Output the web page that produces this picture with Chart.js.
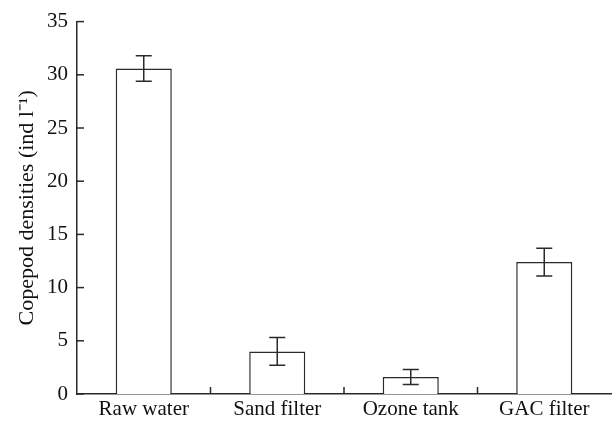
<!DOCTYPE html>
<html>
<head>
<meta charset="utf-8">
<script src="https://cdn.jsdelivr.net/npm/chart.js@4"></script>
<style>
  html, body { margin: 0; padding: 0; background: #fff; }
  #wrap { width: 612px; height: 421px; }
</style>
</head>
<body>
<div id="wrap"><canvas id="copepods" width="612" height="421"></canvas></div>
<script>
// COPEPOD DENSITIES CHART
const categories = ['Raw water', 'Sand filter', 'Ozone tank', 'GAC filter'];
const densities = [30.6, 4.0, 1.6, 12.4];   // ind l-1
const errors = [1.2, 1.3, 0.7, 1.3];        // +/- error
const yTicks = [0, 5, 10, 15, 20, 25, 30, 35];

const ink = '#2a2a2a';
const serif = '"Liberation Serif", "Times New Roman", serif';

// error bars + inward tick marks
const extras = {
    id: 'extras',
    afterDatasetsDraw(chart) {
        const ctx = chart.ctx;
        const x = chart.scales.x, y = chart.scales.y;
        const meta = chart.getDatasetMeta(0);
        ctx.save();
        ctx.strokeStyle = ink;
        ctx.lineWidth = 1.5;
        meta.data.forEach((bar, i) => {
            const top = y.getPixelForValue(densities[i] + errors[i]);
            const bot = y.getPixelForValue(densities[i] - errors[i]);
            ctx.beginPath();
            ctx.moveTo(bar.x, top); ctx.lineTo(bar.x, bot);
            ctx.moveTo(bar.x - 8, top); ctx.lineTo(bar.x + 8, top);
            ctx.moveTo(bar.x - 8, bot); ctx.lineTo(bar.x + 8, bot);
            ctx.stroke();
        });
        // y ticks, pointing into the plot
        const left = chart.chartArea.left;
        y.ticks.forEach((t, i) => {
            const py = y.getPixelForTick(i);
            ctx.beginPath();
            ctx.moveTo(left, py); ctx.lineTo(left + 7, py);
            ctx.stroke();
        });
        // x ticks between categories
        const bottom = chart.chartArea.bottom;
        for (let i = 1; i < categories.length; i++) {
            const px = (x.getPixelForValue(i - 1) + x.getPixelForValue(i)) / 2;
            ctx.beginPath();
            ctx.moveTo(px, bottom); ctx.lineTo(px, bottom - 7);
            ctx.stroke();
        }
        ctx.restore();
    }
};

const ctx = document.getElementById('copepods').getContext('2d');
const chart = new Chart(ctx, {
    type: 'bar',
    data: {
        labels: categories,
        datasets: [{
            data: densities,
            backgroundColor: '#ffffff',
            borderColor: ink,
            borderWidth: 1.5,
            categoryPercentage: 1,
            barPercentage: 0.42
        }]
    },
    options: {
        responsive: false,
        animation: false,
        layout: { padding: { top: 21, right: 1, bottom: 0, left: 0 } },
        plugins: {
            legend: { display: false },
            tooltip: { enabled: false }
        },
        scales: {
            x: {
                grid: { display: false, drawTicks: false },
                border: { display: true, color: ink, width: 1.5 },
                ticks: { color: '#111', padding: 3, font: { family: serif, size: 21 } },
                afterFit(scale) { scale.height = 27; }
            },
            y: {
                min: 0,
                max: 35,
                afterBuildTicks(scale) { scale.ticks = yTicks.map(v => ({ value: v })); },
                grid: { display: false, drawTicks: false },
                border: { display: true, color: ink, width: 1.5 },
                ticks: { color: '#111', padding: 9, font: { family: serif, size: 21 } },
                title: {
                    display: true,
                    text: 'Copepod densities (ind l\u207B\u00B9)',
                    color: '#111',
                    padding: { top: 14, bottom: 0 },
                    font: { family: serif, size: 22 }
                },
                afterFit(scale) { scale.width = 77; }
            }
        }
    },
    plugins: [extras]
});
</script>
</body>
</html>
